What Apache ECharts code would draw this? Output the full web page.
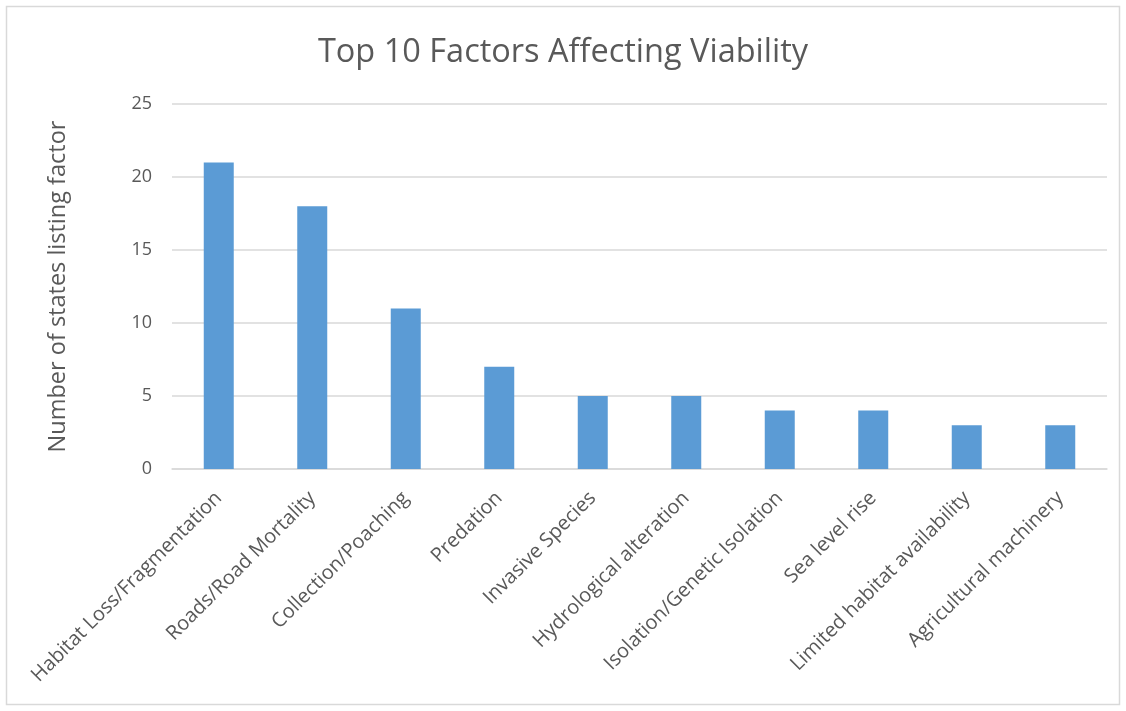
<!DOCTYPE html>
<html>
<head>
<meta charset="utf-8">
<style>
  html, body { margin: 0; padding: 0; background: #fff; }
  #chart { width: 1126px; height: 711px; }
</style>
<script src="https://cdn.jsdelivr.net/npm/echarts@6/dist/echarts.min.js"></script>
</head>
<body>
<div id="chart"></div>
<script>
// Factors named by states, with how many states listed each
const factors = [
  'Habitat Loss/Fragmentation',
  'Roads/Road Mortality',
  'Collection/Poaching',
  'Predation',
  'Invasive Species',
  'Hydrological alteration',
  'Isolation/Genetic Isolation',
  'Sea level rise',
  'Limited habitat availability',
  'Agricultural machinery'
];
const stateCounts = [21, 18, 11, 7, 5, 5, 4, 4, 3, 3];

const FONT = '"Open Sans", "Liberation Sans", sans-serif';
const TEXT = '#595959';

const chart = echarts.init(document.getElementById('chart'));
chart.setOption({
  animation: false,
  backgroundColor: '#ffffff',
  title: {
    text: 'Top 10 Factors Affecting Viability',
    left: 'center',
    top: 31,
    textStyle: { fontFamily: FONT, fontSize: 32.5, fontWeight: 'normal', color: TEXT }
  },
  graphic: [{
    type: 'rect',
    shape: { x: 6.5, y: 6.5, width: 1113, height: 698 },
    style: { fill: 'none', stroke: '#d9d9d9', lineWidth: 1.5 },
    silent: true,
    z: -1
  }],
  grid: { left: 172, right: 19, top: 104, bottom: 242 },
  xAxis: {
    type: 'category',
    data: factors,
    axisLine: { lineStyle: { color: '#d9d9d9', width: 1.5 } },
    axisTick: { show: false },
    axisLabel: {
      interval: 0,
      rotate: 45,
      margin: 26,
      fontFamily: FONT,
      fontSize: 20,
      color: TEXT
    }
  },
  yAxis: {
    type: 'value',
    min: 0,
    max: 25,
    interval: 5,
    name: 'Number of states listing factor',
    nameLocation: 'middle',
    nameGap: 102,
    nameTextStyle: { fontFamily: FONT, fontSize: 23.5, color: TEXT },
    axisLine: { show: false },
    axisTick: { show: false },
    axisLabel: { fontFamily: FONT, fontSize: 18, color: TEXT, margin: 20 },
    splitLine: { lineStyle: { color: '#d9d9d9', width: 1.5 } }
  },
  series: [{
    type: 'bar',
    data: stateCounts,
    barWidth: 30,
    itemStyle: { color: '#5b9bd5' }
  }]
});
</script>
</body>
</html>
